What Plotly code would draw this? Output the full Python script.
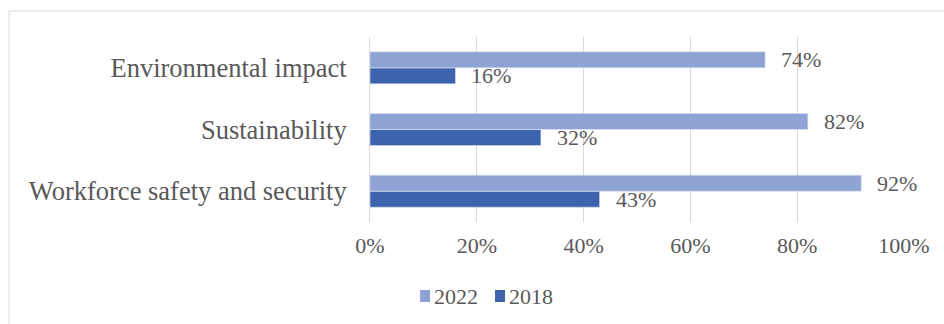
import plotly.graph_objects as go

# Survey priorities, share of respondents
categories = ["Workforce safety and security", "Sustainability", "Environmental impact"]
values_2018 = [0.43, 0.32, 0.16]
values_2022 = [0.92, 0.82, 0.74]
tick_values = [0, 0.2, 0.4, 0.6, 0.8, 1.0]
tick_labels = ["0%", "20%", "40%", "60%", "80%", "100%"]
legend_labels = ["2022", "2018"]

TEXT = "#595959"
GRID = "#D9D9D9"
LIGHT = "#8FA4D4"
DARK = "#3C63AC"
FONT = "Liberation Serif"

W, H = 944, 324
L, R, T, B = 370, 40, 37, 102
plot_w = W - L - R
plot_h = H - T - B

BARGAP = 0.48
half_bar = (1 - BARGAP) / 4  # centre offset of each bar within a group


def px_x(px):
    return (px - L) / plot_w


def px_y(py):
    return (T + plot_h - py) / plot_h


fig = go.Figure()
fig.add_trace(go.Bar(
    name="2018", y=categories, x=values_2018, orientation="h",
    marker=dict(color=DARK, line=dict(color="#DCE3F2", width=0.6)),
))
fig.add_trace(go.Bar(
    name="2022", y=categories, x=values_2022, orientation="h",
    marker=dict(color=LIGHT, line=dict(color="#DCE3F2", width=0.6)),
))

# value labels just past the end of each bar
annotations = []
for i, (v18, v22) in enumerate(zip(values_2018, values_2022)):
    for val, off in ((v18, -half_bar), (v22, half_bar)):
        annotations.append(dict(
            x=val, y=i + off, xref="x", yref="y",
            text=f"{round(val * 100)}%", showarrow=False,
            xanchor="left", yanchor="middle", xshift=14,
            font=dict(family=FONT, size=22, color=TEXT),
        ))

# legend row below the axis: colour swatch followed by the series name
shapes = [dict(
    type="rect", xref="paper", yref="paper",
    x0=px_x(9), x1=px_x(W + 10),
    y0=px_y(H + 10), y1=px_y(11),
    line=dict(color=GRID, width=1), layer="below",
)]
legend_y = 296
for (label, color, sx) in zip(legend_labels, (LIGHT, DARK), (420, 495)):
    shapes.append(dict(
        type="rect", xref="paper", yref="paper",
        x0=px_x(sx), x1=px_x(sx + 10),
        y0=px_y(legend_y + 6), y1=px_y(legend_y - 6),
        fillcolor=color, line=dict(width=0),
    ))
    annotations.append(dict(
        x=px_x(sx + 12), y=px_y(legend_y), xref="paper", yref="paper",
        text=label, showarrow=False, xanchor="left", yanchor="middle",
        font=dict(family=FONT, size=22, color=TEXT),
    ))

fig.update_layout(
    width=W, height=H,
    margin=dict(l=L, r=R, t=T, b=B, pad=0),
    paper_bgcolor="white", plot_bgcolor="white",
    barmode="group", bargap=BARGAP, bargroupgap=0,
    font=dict(family=FONT, color=TEXT),
    xaxis=dict(
        range=[0, 1], tickvals=tick_values, ticktext=tick_labels,
        showgrid=True, gridcolor=GRID, gridwidth=1,
        zeroline=False, showline=False, ticks="",
        tickfont=dict(family=FONT, size=22, color=TEXT),
        ticklabelstandoff=8,
    ),
    yaxis=dict(
        type="category", categoryorder="array", categoryarray=categories,
        range=[-0.5, 2.5],
        showgrid=False, zeroline=False, ticks="",
        showline=True, linecolor=GRID, linewidth=1,
        tickfont=dict(family=FONT, size=26.5, color=TEXT),
        ticklabelstandoff=17,
    ),
    showlegend=False,
    annotations=annotations,
    shapes=shapes,
)

fig.write_html("out.html")
